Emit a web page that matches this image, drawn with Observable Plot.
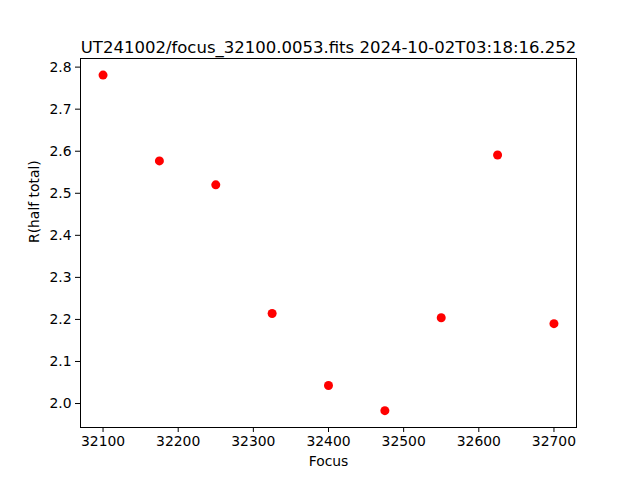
<!DOCTYPE html>
<html>
<head>
<meta charset="utf-8">
<script src="https://cdn.jsdelivr.net/npm/d3@7"></script>
<script src="https://cdn.jsdelivr.net/npm/@observablehq/plot@0.6"></script>
<style>
  html, body { margin: 0; padding: 0; background: #fff; }
  #chart svg { display: block; }
</style>
</head>
<body>
<div id="chart"></div>
<script>
const title = "UT241002/focus_32100.0053.fits 2024-10-02T03:18:16.252";
const focus = [32100, 32175, 32250, 32325, 32400, 32475, 32550, 32625, 32700];
const rHalf = [2.781, 2.577, 2.520, 2.214, 2.043, 1.983, 2.204, 2.591, 2.190];
const xTicks = [32100, 32200, 32300, 32400, 32500, 32600, 32700];
const yTicks = [2.0, 2.1, 2.2, 2.3, 2.4, 2.5, 2.6, 2.7, 2.8];
const xLabel = "Focus";
const yLabel = "R(half total)";

const data = focus.map((f, i) => ({focus: f, r: rHalf[i]}));

const chart = Plot.plot({
  width: 640,
  height: 480,
  marginLeft: 80,
  marginRight: 64,
  marginTop: 58,
  marginBottom: 53,
  style: {fontFamily: "DejaVu Sans", fontSize: "13.9px", color: "#000", background: "#fff"},
  x: {domain: [32070, 32730]},
  y: {domain: [1.943, 2.8205]},
  marks: [
    Plot.axisX({ticks: xTicks, tickSize: 5, tickPadding: 4, tickFormat: d => String(d), label: null, stroke: "#000", strokeWidth: 1, strokeOpacity: 1}),
    Plot.axisY({ticks: yTicks, tickSize: 5, tickPadding: 4, tickFormat: d => d.toFixed(1), label: null, stroke: "#000", strokeWidth: 1, strokeOpacity: 1}),
    Plot.frame({stroke: "#000", strokeWidth: 1}),
    Plot.dot(data, {x: "focus", y: "r", r: 4.5, fill: "#ff0000", stroke: "none"}),
    Plot.text([title], {frameAnchor: "top", dy: -17, fontSize: 16.5, fill: "#000", text: d => d}),
    Plot.text([xLabel], {frameAnchor: "bottom", dy: 38, fontSize: 13.9, fill: "#000", text: d => d}),
    Plot.text([yLabel], {frameAnchor: "left", dx: -46, rotate: -90, fontSize: 13.9, fill: "#000", text: d => d})
  ]
});
document.getElementById("chart").appendChild(chart);
</script>
</body>
</html>
